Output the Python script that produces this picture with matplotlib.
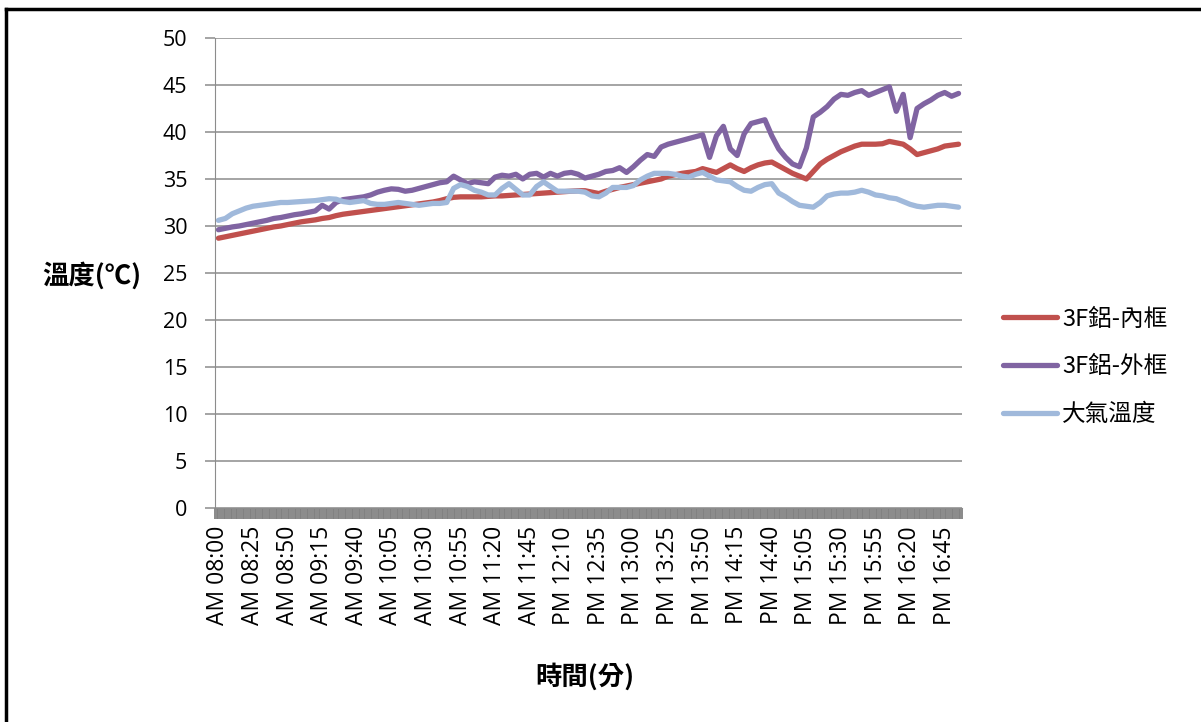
import matplotlib.pyplot as plt
from matplotlib.ticker import MultipleLocator
from matplotlib.lines import Line2D

plt.rcParams['font.family'] = ['Noto Sans CJK TC', 'DejaVu Sans']

# 5-minute readings, AM 08:00 .. PM 16:55
inner = [28.7, 28.85, 29.0, 29.15, 29.3, 29.45, 29.6, 29.75, 29.9, 30.0,
         30.15, 30.3, 30.45, 30.55, 30.65, 30.8, 30.9, 31.1, 31.25, 31.35,
         31.45, 31.55, 31.65, 31.75, 31.85, 31.95, 32.05, 32.15, 32.25, 32.35,
         32.45, 32.55, 32.7, 32.9, 33.05, 33.1, 33.1, 33.1, 33.1, 33.15,
         33.2, 33.2, 33.25, 33.3, 33.35, 33.4, 33.45, 33.5, 33.55, 33.6,
         33.65, 33.7, 33.75, 33.75, 33.6, 33.45, 33.7, 33.9, 34.1, 34.25,
         34.4, 34.55, 34.7, 34.85, 35.0, 35.3, 35.45, 35.6, 35.7, 35.8,
         36.1, 35.9, 35.7, 36.1, 36.5, 36.1, 35.8, 36.2, 36.5, 36.7,
         36.8, 36.4, 36.0, 35.6, 35.3, 35.0, 35.8, 36.6, 37.1, 37.5,
         37.9, 38.2, 38.5, 38.7, 38.7, 38.7, 38.75, 39.0, 38.85, 38.7,
         38.2, 37.6, 37.8, 38.0, 38.2, 38.5, 38.6, 38.7]
outer = [29.6, 29.75, 29.9, 30.0, 30.15, 30.3, 30.45, 30.6, 30.8, 30.9,
         31.05, 31.2, 31.3, 31.45, 31.6, 32.2, 31.8, 32.5, 32.8, 32.9,
         33.0, 33.1, 33.3, 33.6, 33.8, 33.95, 33.9, 33.7, 33.8, 34.0,
         34.2, 34.4, 34.6, 34.7, 35.3, 34.9, 34.5, 34.7, 34.6, 34.5,
         35.2, 35.4, 35.3, 35.5, 35.0, 35.5, 35.6, 35.2, 35.6, 35.3,
         35.6, 35.7, 35.5, 35.1, 35.3, 35.5, 35.8, 35.9, 36.2, 35.7,
         36.3, 37.0, 37.6, 37.4, 38.4, 38.7, 38.9, 39.1, 39.3, 39.5,
         39.7, 37.3, 39.6, 40.6, 38.2, 37.5, 39.8, 40.9, 41.1, 41.3,
         39.6, 38.2, 37.3, 36.6, 36.3, 38.3, 41.6, 42.1, 42.7, 43.5,
         44.0, 43.9, 44.2, 44.4, 43.9, 44.2, 44.5, 44.8, 42.2, 44.0,
         39.4, 42.5, 43.0, 43.4, 43.9, 44.2, 43.8, 44.1]
air = [30.6, 30.8, 31.3, 31.6, 31.9, 32.1, 32.2, 32.3, 32.4, 32.5,
       32.5, 32.55, 32.6, 32.65, 32.7, 32.8, 32.9, 32.85, 32.6, 32.5,
       32.6, 32.7, 32.4, 32.3, 32.3, 32.4, 32.5, 32.4, 32.3, 32.2,
       32.3, 32.4, 32.4, 32.5, 34.0, 34.4, 34.2, 33.8, 33.6, 33.3,
       33.3, 34.0, 34.5, 33.9, 33.3, 33.3, 34.2, 34.7, 34.2, 33.7,
       33.7, 33.7, 33.7, 33.6, 33.2, 33.1, 33.5, 34.1, 34.1, 34.1,
       34.3, 34.9, 35.3, 35.6, 35.6, 35.6, 35.5, 35.3, 35.2, 35.5,
       35.7, 35.3, 34.9, 34.8, 34.7, 34.2, 33.8, 33.7, 34.1, 34.4,
       34.5, 33.5, 33.1, 32.6, 32.2, 32.1, 32.0, 32.5, 33.2, 33.4,
       33.5, 33.5, 33.6, 33.8, 33.6, 33.3, 33.2, 33.0, 32.9, 32.6,
       32.3, 32.1, 32.0, 32.1, 32.2, 32.2, 32.1, 32.0]

tick_labels = ['AM 08:00', 'AM 08:25', 'AM 08:50', 'AM 09:15', 'AM 09:40',
               'AM 10:05', 'AM 10:30', 'AM 10:55', 'AM 11:20', 'AM 11:45',
               'PM 12:10', 'PM 12:35', 'PM 13:00', 'PM 13:25', 'PM 13:50',
               'PM 14:15', 'PM 14:40', 'PM 15:05', 'PM 15:30', 'PM 15:55',
               'PM 16:20', 'PM 16:45']
names = ['3F鋁-內框', '3F鋁-外框', '大氣溫度']
colors = ['#C0504D', '#8064A2', '#A0B9DB']

fig = plt.figure(figsize=(12.01, 7.22), dpi=100)
ax = fig.add_axes([0.179, 0.2964, 0.622, 0.6510])

x = list(range(len(inner)))
for ys, nm, c in zip([inner, outer, air], names, colors):
    ax.plot(x, ys, color=c, lw=3.8, label=nm, solid_capstyle='round')

ax.set_xlim(-0.5, len(inner) - 0.5)
ax.set_ylim(0, 50)
ax.set_yticks(range(0, 51, 5))
ax.yaxis.grid(True, color='#8c8c8c', lw=1.1)
ax.set_axisbelow(True)
ax.set_xticks(list(range(0, len(inner), 5)))
ax.set_xticklabels(tick_labels, rotation=90, fontsize=16.5,
                   family=['Open Sans', 'DejaVu Sans'])
ax.xaxis.set_minor_locator(MultipleLocator(0.25))
ax.tick_params(axis='x', which='both', length=8, width=1.3, color='#808080', pad=5)
ax.tick_params(axis='y', length=7, width=1.1, color='#8c8c8c', pad=13,
               labelsize=15.5)
for lab in ax.get_yticklabels():
    lab.set_family(['Open Sans', 'DejaVu Sans'])
for s in ['top', 'right']:
    ax.spines[s].set_visible(False)
ax.spines['left'].set_color('#8c8c8c')
ax.spines['bottom'].set_color('#8c8c8c')

fig.text(0.035, 0.618, '溫度(℃)', fontsize=19, fontweight='bold', va='center')
fig.text(0.487, 0.062, '時間(分)', fontsize=19, fontweight='bold', ha='center', va='center')

ax.legend(loc='center left', bbox_to_anchor=(1.042, 0.30), frameon=False,
          borderaxespad=0, fontsize=17, handlelength=2.3, labelspacing=1.05,
          handletextpad=0.2)

fig.add_artist(Line2D([0.005, 0.005], [0.0, 0.988], color='black', lw=2.5))
fig.add_artist(Line2D([0.005, 1.0], [0.988, 0.988], color='black', lw=2.5))

fig.savefig('out.png', dpi=100)
